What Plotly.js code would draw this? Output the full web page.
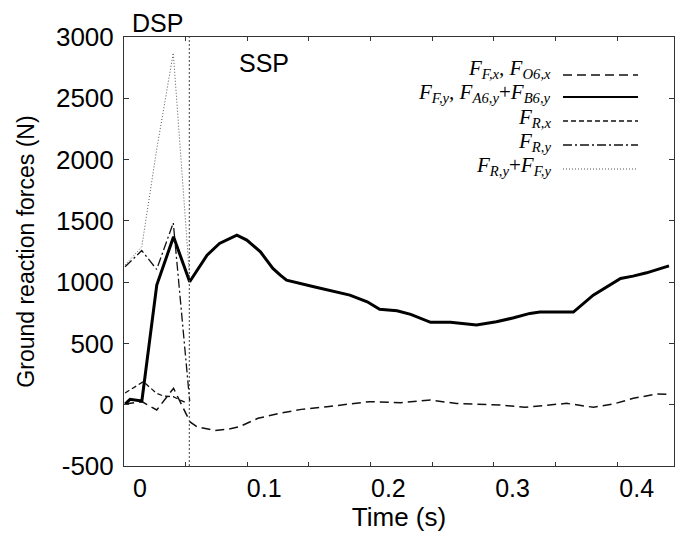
<!DOCTYPE html>
<html>
<head>
<meta charset="utf-8">
<script src="https://cdn.plot.ly/plotly-3.0.1.min.js"></script>
<style>html,body{margin:0;padding:0;background:#fff;}#chart{width:675px;height:535px;}</style>
</head>
<body>
<div id="chart"></div>
<script>
// ---- data (time in s, force in N) ----
const tFFy = [-0.012, -0.008, 0.0015, 0.0135, 0.027, 0.040, 0.054, 0.064, 0.078, 0.086, 0.097, 0.107, 0.113, 0.118, 0.140, 0.158, 0.169, 0.183, 0.193, 0.207, 0.218, 0.234, 0.250, 0.271, 0.287, 0.301, 0.314, 0.322, 0.349, 0.365, 0.376, 0.387, 0.397, 0.408, 0.426];
const FFy  = [6, 44, 30, 976, 1370, 1003, 1220, 1316, 1383, 1343, 1247, 1112, 1057, 1016, 962, 916, 894, 840, 778, 766, 737, 672, 672, 650, 677, 709, 745, 756, 756, 894, 962, 1030, 1049, 1076, 1133];

const tFFx = [-0.012, 0.0015, 0.0135, 0.027, 0.0403, 0.046, 0.060, 0.071, 0.080, 0.095, 0.1125, 0.130, 0.1506, 0.185, 0.210, 0.234, 0.255, 0.269, 0.290, 0.310, 0.3436, 0.3651, 0.3812, 0.3973, 0.4161, 0.426];
const FFx  = [6, 25, -43, 134, -140, -180, -210, -200, -180, -111, -70, -38, -16, 25, 16, 38, 10, 6, -2, -21, 11, -21, 6, 52, 87, 85];

const tRx = [-0.012, 0.0027, 0.0134, 0.0188, 0.0268, 0.038];
const FRx = [96, 188, 93, 71, 65, 11];

const tRy = [-0.012, 0.0014, 0.0134, 0.0268, 0.040];
const FRy = [1125, 1258, 1104, 1484, 30];

const tSum = [-0.012, 0.0014, 0.0134, 0.0268, 0.040];
const FSum = [1140, 1288, 2080, 2870, 1030];

const dspEnd = [0.0397];           // end of double support phase
const xTickVals = [0, 0.1, 0.2, 0.3, 0.4];
const xTickText = ['0', '0.1', '0.2', '0.3', '0.4'];
const yTickVals = [-500, 0, 500, 1000, 1500, 2000, 2500, 3000];
const yTickText = ['-500', '0', '500', '1000', '1500', '2000', '2500', '3000'];
const legendLabels = [
  '<i>F</i><sub><i>F,x</i></sub><i>, F</i><sub><i>O6,x</i></sub>',
  '<i>F</i><sub><i>F,y</i></sub><i>, F</i><sub><i>A6,y</i></sub>+<i>F</i><sub><i>B6,y</i></sub>',
  '<i>F</i><sub><i>R,x</i></sub>',
  '<i>F</i><sub><i>R,y</i></sub>',
  '<i>F</i><sub><i>R,y</i></sub>+<i>F</i><sub><i>F,y</i></sub>'
];

// ---- styles ----
const styles = [
  {color: '#111', width: 1.5, dash: '9px,5px'},
  {color: '#000', width: 3, dash: 'solid'},
  {color: '#111', width: 1.3, dash: '5px,3px'},
  {color: '#111', width: 1.3, dash: '9px,3px,2px,3px'},
  {color: '#555', width: 1, dash: '1px,2px'}
];
const series = [[tFFx, FFx], [tFFy, FFy], [tRx, FRx], [tRy, FRy], [tSum, FSum]];

const traces = series.map((s, i) => ({
  x: s[0], y: s[1], type: 'scatter', mode: 'lines',
  line: styles[i], showlegend: false, hoverinfo: 'skip'
}));
// empty trace to host the secondary tick axis
traces.push({x: [], y: [], xaxis: 'x2', yaxis: 'y', type: 'scatter', mode: 'lines', showlegend: false});

const W = 675, H = 535;
const m = {l: 124, r: 1, t: 37, b: 69};
const pw = W - m.l - m.r, ph = H - m.t - m.b;
const px = v => (v - m.l) / pw;           // pixel -> paper x
const py = v => (H - m.b - v) / ph;       // pixel -> paper y

const xmin = (124 - 140) / 1241.75, xmax = (674 - 140) / 1241.75;

const shapes = [{
  type: 'line', xref: 'x', yref: 'paper', x0: dspEnd[0], x1: dspEnd[0], y0: 0, y1: 1.005,
  line: {color: '#444', width: 1, dash: '2px,2px'}
}];
const annotations = [
  {text: 'DSP', xref: 'paper', yref: 'paper', x: px(157), y: py(23), xanchor: 'center', yanchor: 'middle', showarrow: false, font: {family: 'Liberation Sans, Arial', size: 25, color: '#000'}},
  {text: 'SSP', xref: 'paper', yref: 'paper', x: px(264), y: py(63), xanchor: 'center', yanchor: 'middle', showarrow: false, font: {family: 'Liberation Sans, Arial', size: 25, color: '#000'}}
];
const rowText = [69, 93, 118, 142, 166];
const rowLine = [75, 97, 121, 145, 169];
legendLabels.forEach((lab, i) => {
  annotations.push({text: lab, xref: 'paper', yref: 'paper', x: px(553), y: py(rowText[i]), xanchor: 'right', yanchor: 'middle', showarrow: false,
    font: {family: 'Liberation Serif, Times New Roman, serif', size: 21, color: '#000'}});
  shapes.push({type: 'line', xref: 'paper', yref: 'paper', x0: px(563), x1: px(638), y0: py(rowLine[i]), y1: py(rowLine[i]),
    line: Object.assign({}, styles[i], {width: Math.min(styles[i].width, 2.2)})});
});

const layout = {
  width: W, height: H, margin: m,
  paper_bgcolor: '#fff', plot_bgcolor: '#fff',
  font: {family: 'Liberation Sans, Arial, sans-serif', color: '#000', size: 24},
  showlegend: false,
  xaxis: {
    range: [xmin, xmax], tickvals: xTickVals, ticktext: xTickText, ticks: '', showgrid: false, zeroline: false,
    showline: true, mirror: true, linecolor: '#333', linewidth: 1,
    tickfont: {size: 25}, ticklabelstandoff: 0,
    title: {text: 'Time (s)', font: {size: 26}, standoff: 2}
  },
  xaxis2: {
    overlaying: 'x', anchor: 'y', side: 'bottom', range: [0, 0.4462], dtick: 0.05, tick0: 0,
    ticks: 'inside', ticklen: 4, tickcolor: '#333', showticklabels: false, showgrid: false, zeroline: false,
    showline: false, mirror: 'ticks'
  },
  yaxis: {
    range: [-500, 3000], tickvals: yTickVals, ticktext: yTickText, ticks: 'inside', ticklen: 5, tickcolor: '#333', showgrid: false, zeroline: false,
    showline: true, mirror: 'ticks', linecolor: '#333', linewidth: 1,
    tickfont: {size: 26}, ticklabelstandoff: 4,
    title: {text: 'Ground reaction forces (N)', font: {size: 23}, standoff: 14}
  },
  shapes: shapes, annotations: annotations
};

Plotly.newPlot('chart', traces, layout, {displayModeBar: false, staticPlot: true});
</script>
</body>
</html>
